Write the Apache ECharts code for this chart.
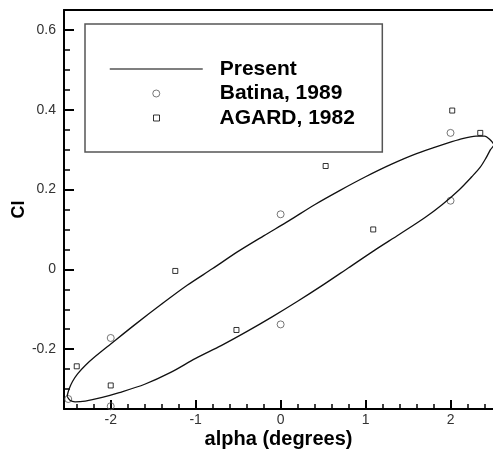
<!DOCTYPE html>
<html>
<head>
<meta charset="utf-8">
<script src="https://cdn.jsdelivr.net/npm/echarts@6/dist/echarts.min.js"></script>
<style>
html,body{margin:0;padding:0;background:#fff;}
#chart{width:493px;height:454px;}
</style>
</head>
<body>
<div id="chart"></div>
<script>
// Present (loop traced: upper branch left->right, then lower branch right->left)
const presentAlpha = [-2.514, -2.49, -2.45, -2.39, -2.30, -2.18, -2.0, -1.7, -1.4, -1.1, -0.8, -0.5, -0.2, 0.1, 0.4, 0.7, 1.0, 1.3, 1.6, 1.9, 2.1, 2.3, 2.40, 2.46, 2.51,
  2.47, 2.42, 2.35, 2.25, 2.1, 1.9, 1.7, 1.4, 1.1, 0.8, 0.5, 0.2, -0.1, -0.4, -0.7, -1.0, -1.3, -1.6, -1.9, -2.1, -2.3, -2.42, -2.48, -2.514];
const presentCl = [-0.318, -0.300, -0.281, -0.262, -0.241, -0.218, -0.187, -0.136, -0.087, -0.040, 0.002, 0.045, 0.084, 0.122, 0.162, 0.198, 0.232, 0.263, 0.290, 0.312, 0.325, 0.334, 0.334, 0.326, 0.312,
  0.300, 0.280, 0.256, 0.232, 0.199, 0.162, 0.130, 0.088, 0.047, 0.004, -0.039, -0.080, -0.119, -0.156, -0.191, -0.223, -0.259, -0.288, -0.309, -0.321, -0.330, -0.332, -0.328, -0.318];
const batinaAlpha = [-2.5, -2, -2, 0, 0, 2, 2];
const batinaCl = [-0.325, -0.172, -0.343, 0.138, -0.138, 0.342, 0.172];
const agardAlpha = [-2.4, -2, -1.24, -0.52, 0.53, 1.09, 2.02, 2.35];
const agardCl = [-0.243, -0.291, -0.004, -0.152, 0.259, 0.1, 0.398, 0.342];
const xMajorTicks = [-2, -1, 0, 1, 2];
const xMinorTicks = [-2.4, -2.2, -1.8, -1.6, -1.4, -1.2, -0.8, -0.6, -0.4, -0.2, 0.2, 0.4, 0.6, 0.8, 1.2, 1.4, 1.6, 1.8, 2.2, 2.4];
const yMajorTicks = [-0.2, 0, 0.2, 0.4, 0.6];
const yMinorTicks = [-0.3, -0.25, -0.15, -0.1, -0.05, 0.05, 0.1, 0.15, 0.25, 0.3, 0.35, 0.45, 0.5, 0.55];
const seriesNames = ['Present', 'Batina, 1989', 'AGARD, 1982'];

const zip = (a, b) => a.map((v, i) => [v, b[i]]);
const FONT = 'Liberation Sans, Arial, sans-serif';
const X_MIN = -2.55, X_MAX = 2.5, Y_MIN = -0.35, Y_MAX = 0.65;
const legendText = {fontSize: 21, fontWeight: 'bold', fontFamily: FONT, color: '#000'};

const chart = echarts.init(document.getElementById('chart'), null, {renderer: 'canvas'});
const option = {
  animation: false,
  backgroundColor: '#fff',
  grid: {left: 64, top: 10, width: 432.5, height: 401, containLabel: false},
  legend: [
    {
      left: 85, top: 24, orient: 'vertical',
      padding: [34.5, 40, 48, 24],
      itemGap: 3.5, itemWidth: 93, itemHeight: 7,
      borderColor: '#555', borderWidth: 1.5, borderRadius: 0,
      selectedMode: false,
      textStyle: Object.assign({padding: [0, 0, 0, 12]}, legendText),
      data: [
        {name: seriesNames[0], lineStyle: {color: '#555', width: 1.5},
          itemStyle: {color: 'rgba(0,0,0,0)', borderColor: 'rgba(0,0,0,0)', borderWidth: 0, opacity: 0}},
        {name: seriesNames[1], itemStyle: {borderWidth: 1, borderColor: '#555'}}
      ]
    },
    {
      left: 153, top: 107.5, orient: 'vertical',
      padding: 0,
      itemWidth: 6, itemHeight: 6,
      selectedMode: false,
      textStyle: Object.assign({padding: [0, 0, 0, 55]}, legendText),
      data: [
        {name: seriesNames[2], itemStyle: {borderWidth: 1, borderColor: '#000'}}
      ]
    }
  ],
  xAxis: [
    {
      type: 'value', min: X_MIN, max: X_MAX, position: 'bottom',
      axisLine: {show: true, onZero: false, lineStyle: {color: '#000', width: 2}},
      axisTick: {show: true, inside: true, length: 9, customValues: xMajorTicks, lineStyle: {color: '#000', width: 2}},
      axisLabel: {show: true, customValues: xMajorTicks, margin: 4, fontSize: 14, fontFamily: FONT, color: '#333'},
      splitLine: {show: false},
      name: 'alpha (degrees)', nameLocation: 'middle', nameGap: 20, nameMoveOverlap: false,
      nameTextStyle: {fontSize: 20, fontWeight: 'bold', fontFamily: FONT, color: '#000'}
    },
    {
      type: 'value', min: X_MIN, max: X_MAX, position: 'bottom',
      axisLine: {show: false, onZero: false},
      axisTick: {show: true, inside: true, length: 5, customValues: xMinorTicks, lineStyle: {color: '#000', width: 1.5}},
      axisLabel: {show: false},
      splitLine: {show: false}
    },
    {
      type: 'value', min: X_MIN, max: X_MAX, position: 'top',
      axisLine: {show: true, onZero: false, lineStyle: {color: '#000', width: 2}},
      axisTick: {show: false}, axisLabel: {show: false}, splitLine: {show: false}
    }
  ],
  yAxis: [
    {
      type: 'value', min: Y_MIN, max: Y_MAX, position: 'left',
      axisLine: {show: true, onZero: false, lineStyle: {color: '#000', width: 2}},
      axisTick: {show: true, inside: true, length: 10, customValues: yMajorTicks, lineStyle: {color: '#000', width: 2}},
      axisLabel: {show: true, customValues: yMajorTicks, margin: 8, fontSize: 14, fontFamily: FONT, color: '#333'},
      splitLine: {show: false},
      name: 'Cl', nameLocation: 'middle', nameGap: 36, nameRotate: 90, nameMoveOverlap: false,
      nameTextStyle: {fontSize: 18, fontWeight: 'bold', fontFamily: FONT, color: '#000'}
    },
    {
      type: 'value', min: Y_MIN, max: Y_MAX, position: 'left',
      axisLine: {show: false, onZero: false},
      axisTick: {show: true, inside: true, length: 6, customValues: yMinorTicks, lineStyle: {color: '#000', width: 1.5}},
      axisLabel: {show: false},
      splitLine: {show: false}
    }
  ],
  series: [
    {
      name: seriesNames[0], type: 'line', xAxisIndex: 0, yAxisIndex: 0,
      data: zip(presentAlpha, presentCl),
      symbol: 'none', smooth: 0.3,
      lineStyle: {color: '#111', width: 1.3},
      itemStyle: {color: '#111'},
      silent: true
    },
    {
      name: seriesNames[1], type: 'scatter', xAxisIndex: 0, yAxisIndex: 0,
      data: zip(batinaAlpha, batinaCl),
      symbol: 'circle', symbolSize: 7,
      itemStyle: {color: 'rgba(255,255,255,0)', borderColor: '#555', borderWidth: 1},
      silent: true
    },
    {
      name: seriesNames[2], type: 'scatter', xAxisIndex: 0, yAxisIndex: 0,
      data: zip(agardAlpha, agardCl),
      symbol: 'rect', symbolSize: 5,
      itemStyle: {color: 'rgba(255,255,255,0)', borderColor: '#000', borderWidth: 1},
      silent: true
    }
  ]
};
chart.setOption(option);
</script>
</body>
</html>
